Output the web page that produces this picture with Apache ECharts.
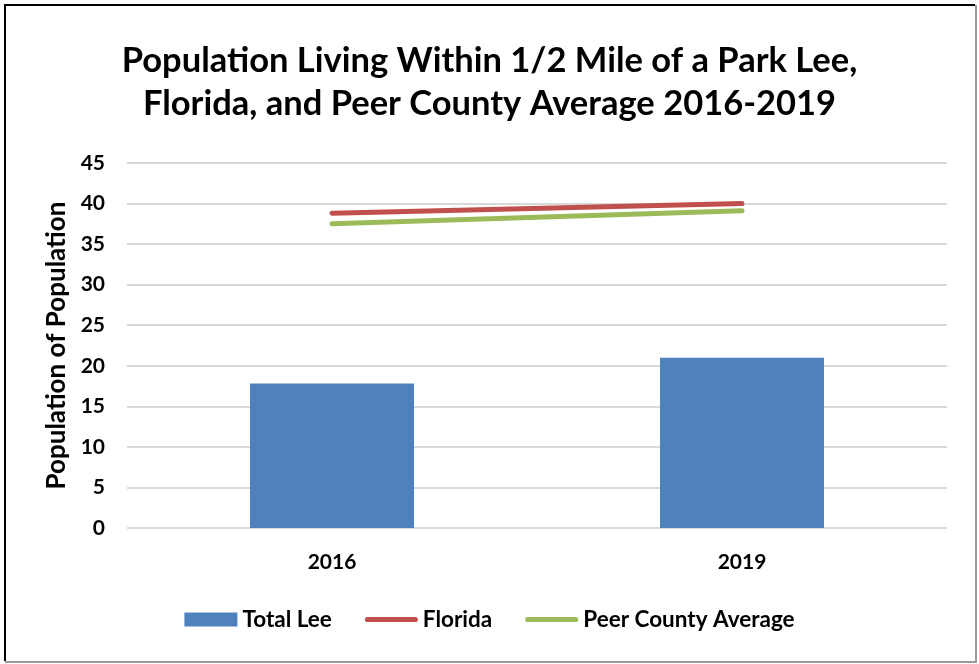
<!DOCTYPE html>
<html>
<head>
<meta charset="utf-8">
<script src="https://cdn.jsdelivr.net/npm/echarts@6/dist/echarts.min.js"></script>
<style>
html,body{margin:0;padding:0;background:#fff;}
#c{width:979px;height:664px;}
</style>
</head>
<body>
<div id="c"></div>
<script>
const categories = ['2016', '2019'];
const totalLee = [17.8, 21.0];
const florida = [38.8, 40.0];
const peerCountyAverage = [37.5, 39.1];
const titleText = 'Population Living Within 1/2 Mile of a Park Lee,\nFlorida, and Peer County Average 2016-2019';
const yAxisName = 'Population of Population';

const FONT = 'Lato';
const LINE_ICON = 'path://M2.5,0 L49.5,0 A2.5,2.5 0 0 1 49.5,5 L2.5,5 A2.5,2.5 0 0 1 2.5,0 Z';
const chart = echarts.init(document.getElementById('c'), null, {renderer: 'canvas'});
chart.setOption({
  animation: false,
  backgroundColor: '#fff',
  title: {
    text: titleText,
    left: 'center',
    top: 34,
    textStyle: {fontFamily: FONT, fontWeight: 'bold', fontSize: 34.5, lineHeight: 43, color: '#000'}
  },
  grid: {left: 127, right: 32, top: 163, bottom: 136, containLabel: false},
  legend: {
    bottom: 28,
    left: 'center',
    itemWidth: 53,
    itemHeight: 14,
    itemGap: 33,
    textStyle: {fontFamily: FONT, fontWeight: 'bold', fontSize: 22.5, color: '#000'},
    data: [
      {name: 'Total Lee', icon: 'rect'},
      {name: 'Florida', icon: LINE_ICON},
      {name: 'Peer County Average', icon: LINE_ICON}
    ]
  },
  xAxis: {
    type: 'category',
    data: categories,
    axisLine: {show: false},
    axisTick: {show: false},
    axisLabel: {fontFamily: FONT, fontWeight: 'bold', fontSize: 21, color: '#000', margin: 24}
  },
  yAxis: {
    type: 'value',
    min: 0, max: 45, interval: 5,
    name: yAxisName,
    nameLocation: 'middle',
    nameGap: 56,
    nameTextStyle: {fontFamily: FONT, fontWeight: 'bold', fontSize: 26, color: '#000'},
    axisLine: {show: false},
    axisTick: {show: false},
    axisLabel: {fontFamily: FONT, fontWeight: 'bold', fontSize: 21, color: '#000', margin: 22},
    splitLine: {lineStyle: {color: '#d9d9d9', width: 2}}
  },
  series: [
    {
      name: 'Total Lee', type: 'bar', data: totalLee, barWidth: '40%',
      itemStyle: {color: '#4F81BD'}
    },
    {
      name: 'Florida', type: 'line', data: florida, symbol: 'none',
      lineStyle: {color: '#C0504D', width: 5, cap: 'round'}, itemStyle: {color: '#C0504D'}
    },
    {
      name: 'Peer County Average', type: 'line', data: peerCountyAverage, symbol: 'none',
      lineStyle: {color: '#9BBB59', width: 5, cap: 'round'}, itemStyle: {color: '#9BBB59'}
    }
  ],
  graphic: [
    {type: 'polyline', shape: {points: [[5, 661], [5, 5], [975, 5]]}, style: {stroke: '#000', lineWidth: 2, fill: null}, silent: true},
    {type: 'polyline', shape: {points: [[976, 5], [976, 662], [5, 662]]}, style: {stroke: '#999', lineWidth: 2, fill: null}, silent: true}
  ]
});
</script>
</body>
</html>
